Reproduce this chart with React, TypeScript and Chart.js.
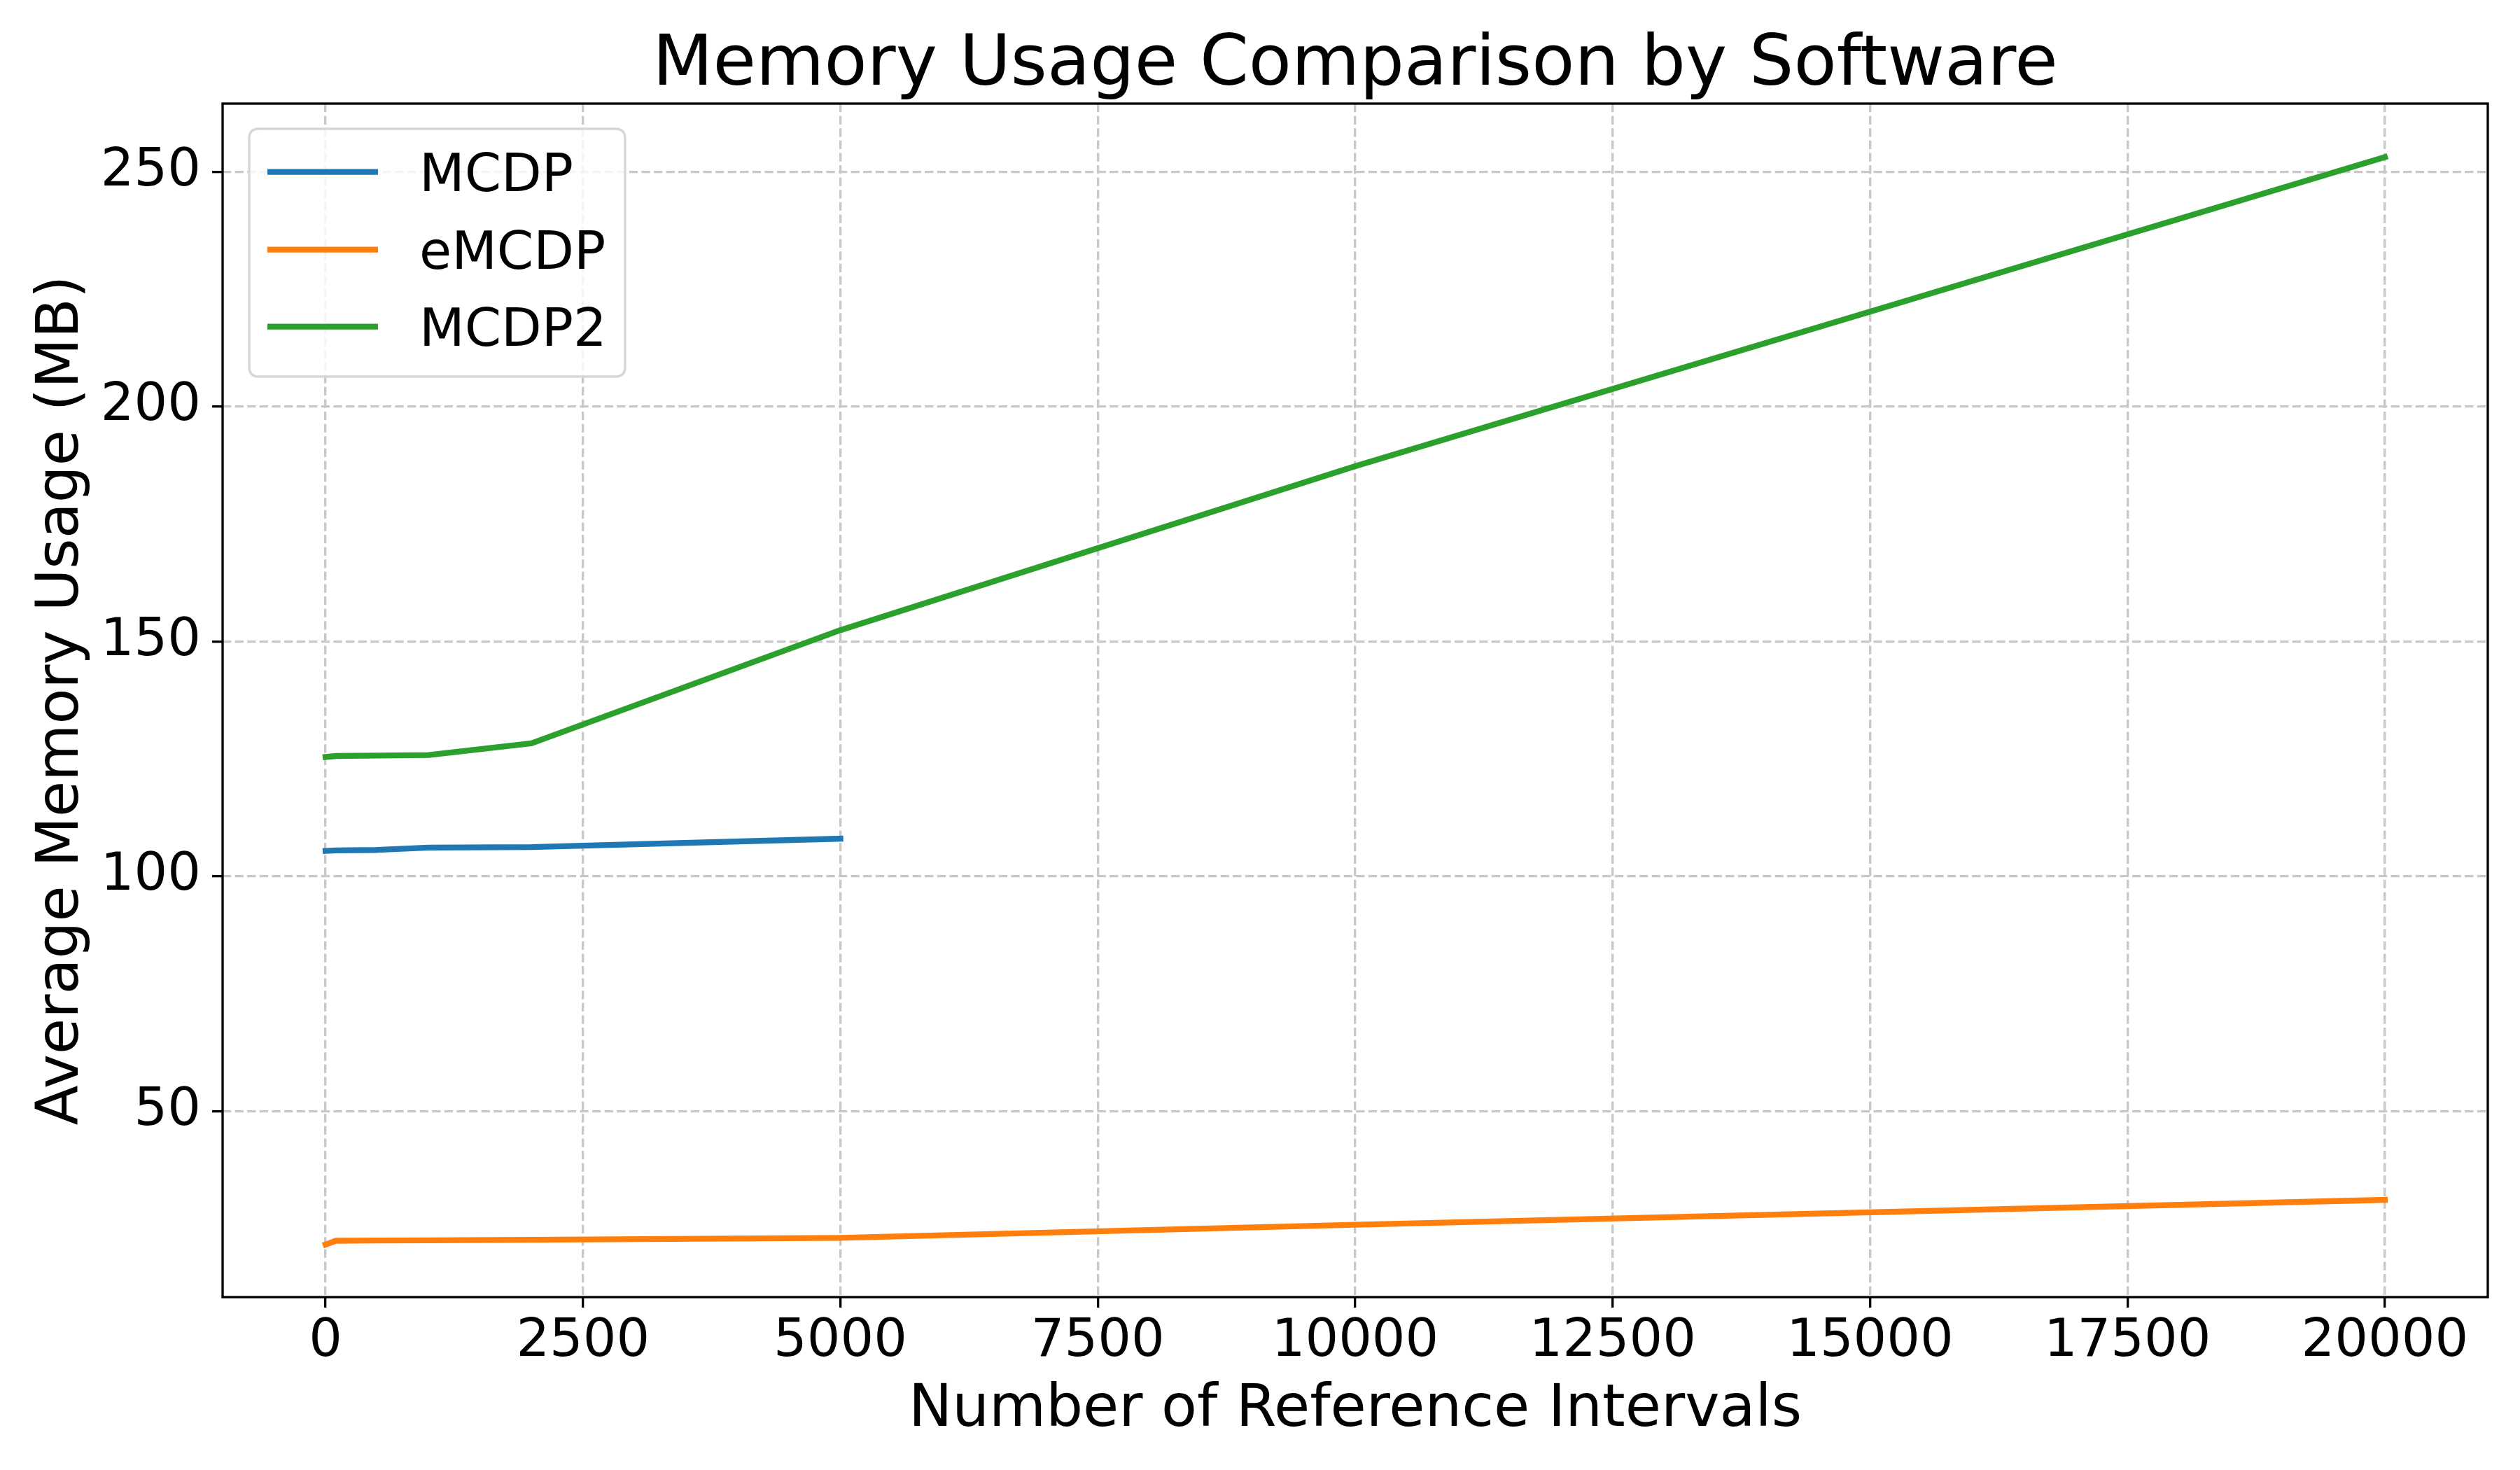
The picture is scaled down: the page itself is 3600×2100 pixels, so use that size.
import React, { useEffect, useRef } from "react";
import { Chart, registerables } from "chart.js";

Chart.register(...registerables);

// ---- data ----
const chartTitle = "Memory Usage Comparison by Software";
const xAxisTitle = "Number of Reference Intervals";
const yAxisTitle = "Average Memory Usage (MB)";

const xValues = [0, 100, 500, 1000, 2000, 5000, 10000, 20000];
const seriesNames = ["MCDP", "eMCDP", "MCDP2"];
const mcdpValues = [105.4, 105.5, 105.6, 106.1, 106.2, 108.0];
const emcdpValues = [21.6, 22.4, 22.45, 22.5, 22.6, 23.0, 25.8, 31.1];
const mcdp2Values = [125.4, 125.6, 125.7, 125.8, 128.3, 152.4, 187.3, 253.1];
const seriesColors = ["#1f77b4", "#ff7f0e", "#2ca02c"];

const xTicks = [0, 2500, 5000, 7500, 10000, 12500, 15000, 17500, 20000];
const yTicks = [50, 100, 150, 200, 250];

const FONT = "DejaVu Sans";
const LINE_W = 8.33;

const toPoints = (vals: number[]) => vals.map((v, i) => ({ x: xValues[i], y: v }));

const framePlugin = {
  id: "frameAndLegend",
  afterDraw(chart: any) {
    const { ctx, chartArea } = chart;
    ctx.save();
    // frame (all four spines)
    ctx.strokeStyle = "#000";
    ctx.lineWidth = 3.33;
    ctx.setLineDash([]);
    ctx.strokeRect(chartArea.left, chartArea.top, chartArea.right - chartArea.left, chartArea.bottom - chartArea.top);

    // legend box
    const bx = 356, by = 184, bw = 537, bh = 354, r = 14;
    ctx.beginPath();
    ctx.moveTo(bx + r, by);
    ctx.lineTo(bx + bw - r, by);
    ctx.quadraticCurveTo(bx + bw, by, bx + bw, by + r);
    ctx.lineTo(bx + bw, by + bh - r);
    ctx.quadraticCurveTo(bx + bw, by + bh, bx + bw - r, by + bh);
    ctx.lineTo(bx + r, by + bh);
    ctx.quadraticCurveTo(bx, by + bh, bx, by + bh - r);
    ctx.lineTo(bx, by + r);
    ctx.quadraticCurveTo(bx, by, bx + r, by);
    ctx.closePath();
    ctx.fillStyle = "rgba(255,255,255,0.8)";
    ctx.fill();
    ctx.strokeStyle = "#d6d6d6";
    ctx.lineWidth = 3.33;
    ctx.stroke();

    const rowY = [245.7, 356.7, 466.7];
    chart.data.datasets.forEach((ds: any, i: number) => {
      const y = rowY[i];
      ctx.beginPath();
      ctx.strokeStyle = ds.borderColor;
      ctx.lineWidth = LINE_W;
      ctx.lineCap = "butt";
      ctx.moveTo(382, y);
      ctx.lineTo(540, y);
      ctx.stroke();
      ctx.fillStyle = "#000";
      ctx.font = `75px "${FONT}"`;
      ctx.textAlign = "left";
      ctx.textBaseline = "alphabetic";
      ctx.fillText(ds.label, 599, y + 27);
    });
    ctx.restore();
  },
};

export default function App() {
  const canvasRef = useRef<HTMLCanvasElement | null>(null);

  useEffect(() => {
    const canvas = canvasRef.current;
    if (!canvas) return;
    const seriesValues = [mcdpValues, emcdpValues, mcdp2Values];
    const chart = new Chart(canvas, {
      type: "line",
      data: {
        datasets: seriesNames.map((name, i) => ({
          label: name,
          data: toPoints(seriesValues[i]),
          borderColor: seriesColors[i],
          backgroundColor: seriesColors[i],
          borderWidth: LINE_W,
          pointRadius: 0,
          borderCapStyle: "square",
          borderJoinStyle: "round",
          tension: 0,
          fill: false,
        })),
      },
      options: {
        responsive: false,
        devicePixelRatio: 1,
        animation: false,
        events: [],
        layout: { padding: { left: 0, right: 46, top: 0, bottom: 0 } },
        plugins: {
          legend: { display: false },
          tooltip: { enabled: false },
          title: {
            display: true,
            text: chartTitle,
            fullSize: false,
            color: "#000",
            font: { family: FONT, size: 100, weight: "normal" },
            padding: { top: 35, bottom: -7 },
          },
        },
        scales: {
          x: {
            type: "linear",
            min: -1000,
            max: 21000,
            afterBuildTicks: (scale: any) => {
              scale.ticks = xTicks.map((v) => ({ value: v }));
            },
            afterFit: (scale: any) => {
              scale.height = 247;
            },
            grid: {
              color: "#c8c8c8",
              lineWidth: 3.33,
              drawTicks: true,
              tickLength: 15,
              tickColor: "#000",
              tickWidth: 3.33,
              tickBorderDash: [],
            },
            border: { display: false, dash: [12.3, 5.3] },
            ticks: {
              color: "#000",
              font: { family: FONT, size: 75 },
              padding: 5,
              maxRotation: 0,
              autoSkip: false,
              callback: (v: any) => String(v),
            },
            title: {
              display: true,
              text: xAxisTitle,
              color: "#000",
              font: { family: FONT, size: 83.3 },
              padding: { top: 0, bottom: 35 },
            },
          },
          y: {
            type: "linear",
            min: 10.4,
            max: 264.5,
            afterBuildTicks: (scale: any) => {
              scale.ticks = yTicks.map((v) => ({ value: v }));
            },
            afterFit: (scale: any) => {
              scale.width = 318;
            },
            grid: {
              color: "#c8c8c8",
              lineWidth: 3.33,
              drawTicks: true,
              tickLength: 15,
              tickColor: "#000",
              tickWidth: 3.33,
              tickBorderDash: [],
            },
            border: { display: false, dash: [12.3, 5.3] },
            ticks: {
              color: "#000",
              font: { family: FONT, size: 75 },
              padding: 16,
              autoSkip: false,
              callback: (v: any) => String(v),
            },
            title: {
              display: true,
              text: yAxisTitle,
              color: "#000",
              font: { family: FONT, size: 83.3 },
              padding: { top: 39, bottom: 0 },
            },
          },
        },
      },
      plugins: [framePlugin],
    } as any);
    return () => chart.destroy();
  }, []);

  return (
    <div style={{ position: "absolute", left: 0, top: 0, width: 3600, height: 2100, background: "#fff" }}>
      <canvas ref={canvasRef} width={3600} height={2100} style={{ width: 3600, height: 2100, display: "block" }} />
    </div>
  );
}
